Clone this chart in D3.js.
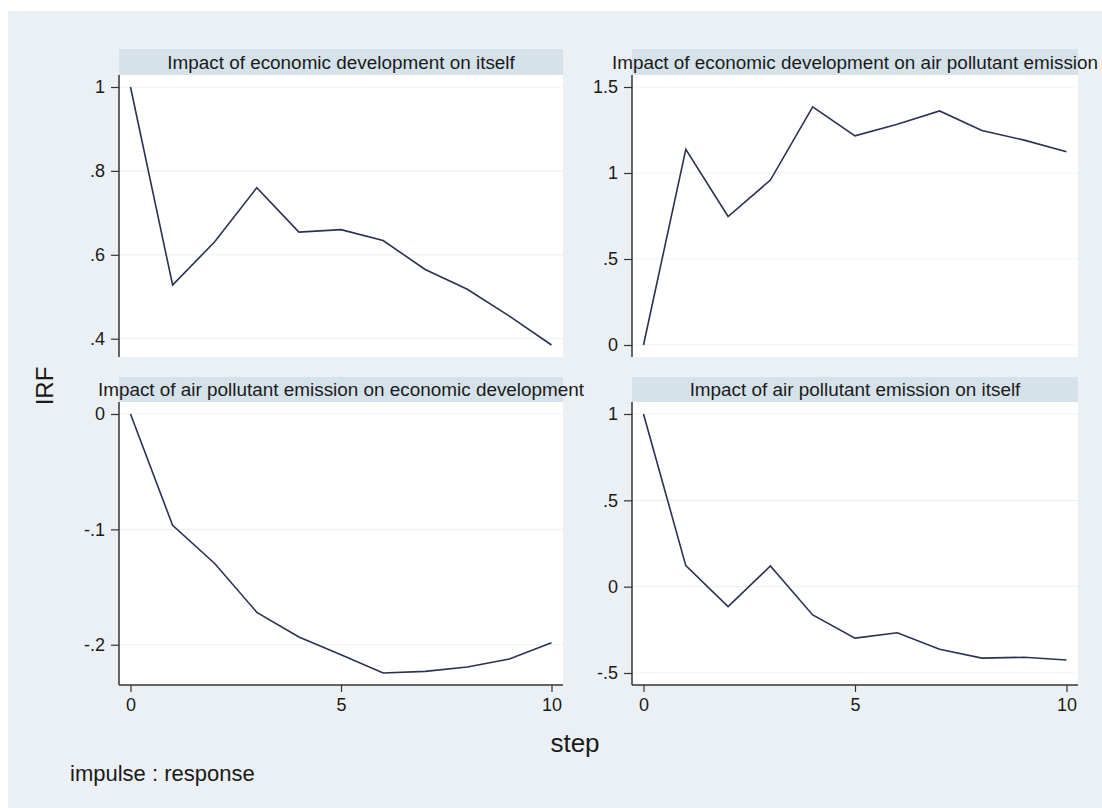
<!DOCTYPE html>
<html>
<head>
<meta charset="utf-8">
<script src="https://cdn.jsdelivr.net/npm/d3@7"></script>
<style>
  html, body { margin: 0; padding: 0; background: #ffffff; }
  svg { display: block; font-family: "Liberation Sans", Arial, sans-serif; }
</style>
</head>
<body>
<svg id="chart" width="1102" height="808"></svg>
<script>
// ---- data ----
const steps = [0, 1, 2, 3, 4, 5, 6, 7, 8, 9, 10];
const panelTitles = [
  "Impact of economic development on itself",
  "Impact of economic development on air pollutant emission",
  "Impact of air pollutant emission on economic development",
  "Impact of air pollutant emission on itself"
];
const econOnEcon = [1.000, 0.528, 0.631, 0.760, 0.654, 0.660, 0.634, 0.565, 0.518, 0.454, 0.385];
const econOnAir  = [0.000, 1.137, 0.747, 0.959, 1.384, 1.216, 1.284, 1.361, 1.247, 1.191, 1.123];
const airOnEcon  = [0.000, -0.0965, -0.1296, -0.1719, -0.1933, -0.2086, -0.2245, -0.2231, -0.2193, -0.2124, -0.1982];
const airOnAir   = [1.000, 0.122, -0.116, 0.120, -0.164, -0.298, -0.267, -0.363, -0.414, -0.409, -0.425];
const yTicksTL = [0.4, 0.6, 0.8, 1];
const yLabelsTL = [".4", ".6", ".8", "1"];
const yTicksTR = [0, 0.5, 1, 1.5];
const yLabelsTR = ["0", ".5", "1", "1.5"];
const yTicksBL = [-0.2, -0.1, 0];
const yLabelsBL = ["-.2", "-.1", "0"];
const yTicksBR = [-0.5, 0, 0.5, 1];
const yLabelsBR = ["-.5", "0", ".5", "1"];
const xTicks = [0, 5, 10];
const xTickLabels = ["0", "5", "10"];

// ---- layout ----
const svg = d3.select("#chart");
svg.append("rect").attr("x", 8).attr("y", 11).attr("width", 1094).attr("height", 797).attr("fill", "#EAF0F3");

const cols = [{x0: 119, x1: 563}, {x0: 632, x1: 1078}];
const rows = [{bandTop: 49, top: 75, bottom: 357}, {bandTop: 377, top: 402, bottom: 685}];
const pad = 12;
const lineColor = "#2c3150";

const panels = [
  {r: 0, c: 0, vals: econOnEcon, ticks: yTicksTL, labels: yLabelsTL},
  {r: 0, c: 1, vals: econOnAir,  ticks: yTicksTR, labels: yLabelsTR},
  {r: 1, c: 0, vals: airOnEcon,  ticks: yTicksBL, labels: yLabelsBL},
  {r: 1, c: 1, vals: airOnAir,   ticks: yTicksBR, labels: yLabelsBR}
];

panels.forEach((p, i) => {
  const col = cols[p.c], row = rows[p.r];
  const g = svg.append("g");
  // title band
  g.append("rect").attr("x", col.x0).attr("y", row.bandTop)
    .attr("width", col.x1 - col.x0).attr("height", row.top - row.bandTop).attr("fill", "#D6E2EA");
  g.append("text").attr("x", (col.x0 + col.x1) / 2).attr("y", row.top - 6.5)
    .attr("text-anchor", "middle").attr("font-size", 18.9).attr("fill", "#1a1a1a")
    .text(panelTitles[i]);
  // plot region
  g.append("rect").attr("x", col.x0).attr("y", row.top)
    .attr("width", col.x1 - col.x0).attr("height", row.bottom - row.top).attr("fill", "#ffffff");

  const x = d3.scaleLinear().domain(d3.extent(steps)).range([col.x0 + 11.5, col.x1 - 11.5]);
  const ext = d3.extent(p.vals.concat(p.ticks));
  const y = d3.scaleLinear().domain(ext).range([row.bottom - pad, row.top + pad]);

  // gridlines
  g.selectAll(".grid").data(p.ticks).enter().append("line")
    .attr("x1", col.x0).attr("x2", col.x1)
    .attr("y1", d => y(d)).attr("y2", d => y(d))
    .attr("stroke", "#EDF1F4").attr("stroke-width", 1.2);

  // y axis
  const yAxis = d3.axisLeft(y).tickValues(p.ticks).tickSize(8).tickPadding(6)
    .tickFormat((d, k) => p.labels[k]);
  const ya = g.append("g").attr("transform", `translate(${col.x0},0)`).call(yAxis);
  ya.select(".domain").remove();
  ya.selectAll(".tick line").attr("stroke", "#333").attr("stroke-width", 1.2);
  ya.selectAll(".tick text").attr("font-size", 18).attr("fill", "#1a1a1a")
    .attr("font-family", "Liberation Sans, Arial, sans-serif");
  g.append("line").attr("x1", col.x0).attr("x2", col.x0).attr("y1", row.top).attr("y2", row.bottom)
    .attr("stroke", "#333").attr("stroke-width", 1.5);

  // x axis on bottom row
  if (p.r === 1) {
    const xAxis = d3.axisBottom(x).tickValues(xTicks).tickSize(7).tickPadding(6)
      .tickFormat((d, k) => xTickLabels[k]);
    const xa = g.append("g").attr("transform", `translate(0,${row.bottom})`).call(xAxis);
    xa.select(".domain").remove();
    xa.selectAll(".tick line").attr("stroke", "#333").attr("stroke-width", 1.2);
    xa.selectAll(".tick text").attr("font-size", 18).attr("fill", "#1a1a1a")
      .attr("font-family", "Liberation Sans, Arial, sans-serif");
    g.append("line").attr("x1", col.x0).attr("x2", col.x1).attr("y1", row.bottom).attr("y2", row.bottom)
      .attr("stroke", "#333").attr("stroke-width", 1.5);
  }

  // line
  const line = d3.line().x((d, k) => x(steps[k])).y(d => y(d));
  g.append("path").datum(p.vals).attr("d", line).attr("fill", "none")
    .attr("stroke", lineColor).attr("stroke-width", 1.6).attr("stroke-linejoin", "miter");
});

// axis titles and note
svg.append("text").attr("transform", "translate(53,386) rotate(-90)")
  .attr("text-anchor", "middle").attr("font-size", 24).attr("fill", "#1a1a1a").text("IRF");
svg.append("text").attr("x", 575).attr("y", 752).attr("text-anchor", "middle")
  .attr("font-size", 26).attr("fill", "#1a1a1a").text("step");
svg.append("text").attr("x", 70).attr("y", 781).attr("font-size", 22).attr("fill", "#1a1a1a")
  .text("impulse : response");
</script>
</body>
</html>
